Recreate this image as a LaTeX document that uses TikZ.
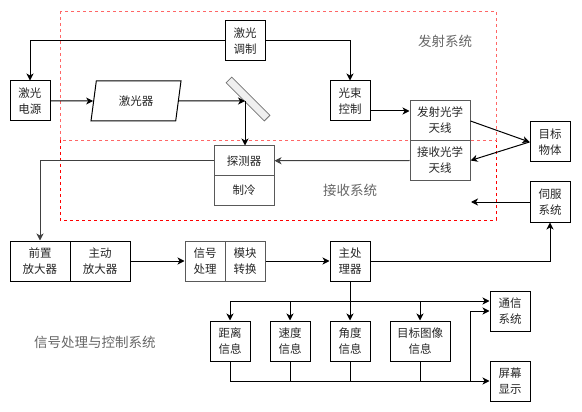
\documentclass[tikz,border=0pt]{standalone}
\usepackage{fontspec}
\setmainfont{Noto Sans CJK SC}
\usetikzlibrary{arrows.meta,shapes.geometric}

\newcommand{\boxfont}{\fontsize{11.5pt}{16pt}\selectfont}
\newcommand{\sysfont}{\fontsize{13.5pt}{16pt}\selectfont}

\tikzset{
  box/.style={draw, line width=1pt, minimum width=40pt, minimum height=40pt,
    inner sep=0pt, align=center, font=\boxfont, text=black!85},
  widebox/.style={box, minimum width=60pt},
  greybox/.style={draw=black!65},
  arr/.style={line width=1pt, -{Stealth[length=7pt,width=7pt,inset=2pt]}},
  wire/.style={line width=1pt},
  zone/.style={dashed, line width=0.9pt},
  syslabel/.style={text=black!60, font=\sysfont}
}

\begin{document}
\begin{tikzpicture}[x=1pt, y=-1pt]

    \useasboundingbox (0,0) rectangle (582,412);

    % 1. Hai vung net dut mau do
    \draw[zone, red] (60,140) rectangle (496,220);
    \draw[zone, red!60] (60,11) rectangle (496,140);

    % 2. Nhan cac he thong
    \node[syslabel] (txlabel) at (445,41) {发射系统};
    \node[syslabel] (rxlabel) at (350,190) {接收系统};
    \node[syslabel] (sclabel) at (95,342) {信号处理与控制系统};

    % 3. Khoi phat
    \node[box] (mod) at (245,41) {激光\\调制};
    \node[box] (src) at (30,101) {激光\\电源};
    \node[trapezium, trapezium left angle=63.4, trapezium right angle=116.6,
          trapezium stretches body, draw, line width=1pt, minimum width=90pt,
          minimum height=40pt, inner sep=0pt, font=\boxfont, text=black!85]
          (laser) at (136,101) {激光器};
    \node[draw=black!55, fill=black!6, line width=0.8pt, rotate=-45,
          minimum width=54pt, minimum height=8pt, inner sep=0pt]
          (mirror) at (248,99) {};
    \coordinate (hit) at (245,101);
    \node[box] (beam) at (350,101) {光束\\控制};
    \node[widebox, greybox] (tx) at (440,120.5) {发射光学\\天线};
    \node[widebox, greybox] (rx) at (440,160.5) {接收光学\\天线};
    \node[box] (target) at (550,142) {目标\\物体};

    % 4. Khoi thu
    \node[widebox, greybox, minimum height=29.5pt] (det) at (244,160.75) {探测器};
    \node[widebox, greybox, minimum height=29.5pt] (cool) at (244,190.25) {制冷};
    \node[box] (servo) at (550,202) {伺服\\系统};
    \coordinate (servoend) at (471,202);

    % 5. Khoi xu ly tin hieu
    \node[widebox] (pre) at (40,261) {前置\\放大器};
    \node[widebox] (amp) at (100,261) {主动\\放大器};
    \node[box, greybox] (sig) at (205,261) {信号\\处理};
    \node[box, greybox] (adc) at (245,261) {模块\\转换};
    \node[box] (main) at (350,261) {主处\\理器};

    \node[box] (dist) at (230,341) {距离\\信息};
    \node[box] (spd) at (290,341) {速度\\信息};
    \node[box] (ang) at (350,341) {角度\\信息};
    \node[widebox] (img) at (420,341) {目标图像\\信息};
    \node[box] (comm) at (510,311) {通信\\系统};
    \node[box] (scr) at (510,381) {屏幕\\显示};

    \coordinate (bus) at (350,301);
    \coordinate (low) at (350,381);
    \coordinate (tap) at (470,381);

    % 6. Cac duong noi
    \draw[arr] (mod.west) -| (src.north);
    \draw[arr] (mod.east) -| (beam.north);
    \draw[arr] (src.east) -- (laser.west);
    \draw[arr] (laser.east) -- (hit);
    \draw[arr] (hit) -- (hit |- det.north);
    \draw[arr] (beam.east |- 0,111) -- (tx.west |- 0,111);
    \draw[arr] ([yshift=-0.5pt]tx.east) -- (target.west);
    \draw[arr] (target.west) -- (rx.east);
    \draw[arr, black!75] (rx.west) -- (det.east);
    \draw[arr] (servo.west) -- (servoend);
    \draw[arr, black!75] (det.west) -| (pre.north);
    \draw[arr] (amp.east) -- (sig.west);
    \draw[arr] (adc.east) -- (main.west);
    \draw[arr] (main.east) -| (servo.south);
    \draw[arr] (main.south) -- (ang.north);
    \draw[arr] (bus -| dist.north) -- (bus -| comm.west);
    \foreach \n in {dist,spd,img}
        \draw[arr] (bus -| \n.north) -- (\n.north);
    \foreach \n in {dist,spd,ang,img}
        \draw[wire] (\n.south) -- (low -| \n.south);
    \draw[arr] (low -| dist.south) -- (scr.west);
    \draw[arr] (tap) |- (comm.west);

\end{tikzpicture}
\end{document}
